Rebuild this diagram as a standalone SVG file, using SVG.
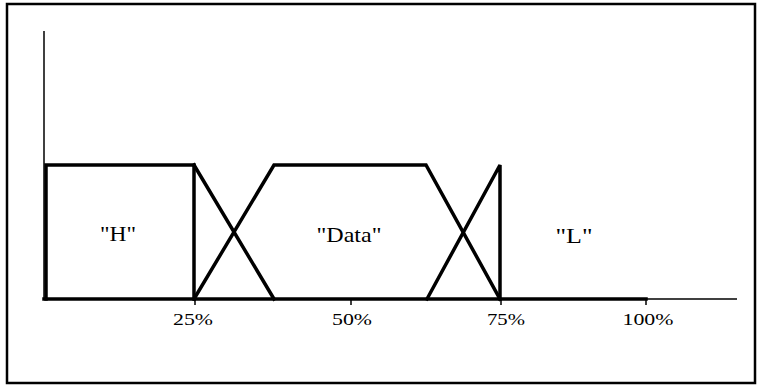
<svg xmlns="http://www.w3.org/2000/svg" width="757" height="385" viewBox="0 0 757 385">
<style>
.thick{fill:none;stroke:#000;stroke-width:3.5;stroke-linejoin:miter;stroke-linecap:square}
.thin{fill:none;stroke:#000;stroke-width:1.5}
text{fill:#000;text-anchor:middle}
.lbl{font-size:22px}
.tick{font-size:17px}
</style>
<rect x="7" y="4" width="748" height="379" fill="#fff" stroke="#000" stroke-width="2.5"/>
<g id="axes" font-family="Liberation Serif, DejaVu Serif, serif">
<line class="thin" x1="44" y1="31" x2="44" y2="299"/>
<line class="thin" x1="44" y1="299" x2="737" y2="299"/>
<line class="thin" x1="195" y1="299" x2="195" y2="305"/>
<line class="thin" x1="351" y1="299" x2="351" y2="305"/>
<line class="thin" x1="501" y1="299" x2="501" y2="305"/>
<line class="thin" x1="646" y1="299" x2="646" y2="305"/>
<text class="tick" x="193" y="325" textLength="40" lengthAdjust="spacingAndGlyphs">25%</text>
<text class="tick" x="352" y="325" textLength="40" lengthAdjust="spacingAndGlyphs">50%</text>
<text class="tick" x="506" y="325" textLength="38" lengthAdjust="spacingAndGlyphs">75%</text>
<text class="tick" x="648" y="325" textLength="51" lengthAdjust="spacingAndGlyphs">100%</text>
</g>
<g id="connectors">
<line class="thick" x1="44" y1="299" x2="646" y2="299"/>
</g>
<g id="H" font-family="Liberation Serif, DejaVu Serif, serif">
<polyline class="thick" points="194,299 194,165 46,165 46,299"/>
<line class="thick" x1="194" y1="165" x2="274" y2="299"/>
<text class="lbl" x="118" y="241" textLength="36" lengthAdjust="spacingAndGlyphs">"H"</text>
</g>
<g id="Data" font-family="Liberation Serif, DejaVu Serif, serif">
<polyline class="thick" points="194,299 274,165 426,165 500,299"/>
<text class="lbl" x="349" y="242" textLength="65" lengthAdjust="spacingAndGlyphs">"Data"</text>
</g>
<g id="L" font-family="Liberation Serif, DejaVu Serif, serif">
<polyline class="thick" points="427,299 500,165 500,299"/>
<text class="lbl" x="574" y="243" textLength="37" lengthAdjust="spacingAndGlyphs">"L"</text>
</g>
</svg>
